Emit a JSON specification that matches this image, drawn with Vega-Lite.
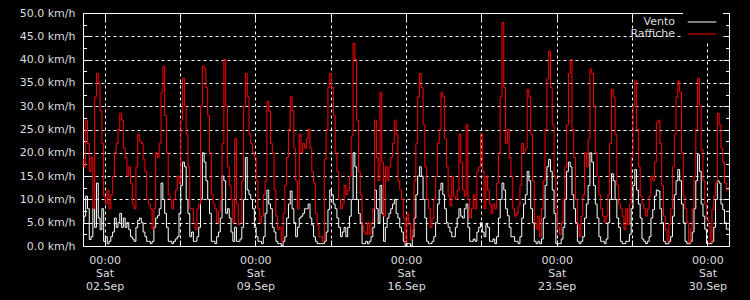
{
"$schema": "https://vega.github.io/schema/vega-lite/v6.json",
"width": 646, "height": 233,
"autosize": {"type": "none"},
"padding": {"left": 83, "top": 13, "right": 21, "bottom": 54},
"background": "black",
"config": {
  "view": {"stroke": "white", "strokeWidth": 1},
  "axis": {"domain": false, "labelFont": "DejaVu Sans", "labelFontSize": 11, "labelColor": "#dddddd", "tickColor": "white", "gridColor": "white", "gridOpacity": 1, "gridDash": [3, 3], "title": null, "labelFlush": false, "labelOverlap": false}
},
"data": {"format": {"parse": {"t": "date:'%y%m%d%H'"}}, "values": [
{"t":"17090100","v":5,"g":18.6},{"t":"17090102","v":6.4,"g":17},{"t":"17090104","v":10.7,"g":27},{"t":"17090106","v":8,"g":22},{"t":"17090108","v":1.4,"g":16},{"t":"17090110","v":2,"g":19},{"t":"17090112","v":8,"g":8},{"t":"17090114","v":4,"g":32},{"t":"17090116","v":13.5,"g":37},{"t":"17090118","v":6,"g":35},{"t":"17090120","v":3.5,"g":29},{"t":"17090122","v":8,"g":22},
{"t":"17090200","v":1,"g":10.7},{"t":"17090202","v":2,"g":9},{"t":"17090204","v":0.5,"g":12},{"t":"17090206","v":1,"g":8},{"t":"17090208","v":2,"g":11},{"t":"17090210","v":3,"g":15},{"t":"17090212","v":6,"g":20},{"t":"17090214","v":4,"g":22},{"t":"17090216","v":5,"g":25},{"t":"17090218","v":7,"g":28.5},{"t":"17090220","v":4,"g":27},{"t":"17090222","v":6,"g":21},
{"t":"17090300","v":4,"g":19},{"t":"17090302","v":5,"g":15},{"t":"17090304","v":3.5,"g":17},{"t":"17090306","v":2,"g":13.5},{"t":"17090308","v":1.5,"g":9},{"t":"17090310","v":1,"g":8},{"t":"17090312","v":4,"g":17},{"t":"17090314","v":5.5,"g":24},{"t":"17090316","v":6,"g":22.5},{"t":"17090318","v":5,"g":22},{"t":"17090320","v":3,"g":18.6},{"t":"17090322","v":2,"g":16},
{"t":"17090400","v":1,"g":10},{"t":"17090402","v":1,"g":9},{"t":"17090404","v":0.5,"g":8},{"t":"17090406","v":1,"g":3.6},{"t":"17090408","v":4,"g":8},{"t":"17090410","v":6,"g":20},{"t":"17090412","v":6.5,"g":19},{"t":"17090414","v":8,"g":22},{"t":"17090416","v":13.5,"g":33},{"t":"17090418","v":10,"g":38.5},{"t":"17090420","v":7,"g":28},{"t":"17090422","v":4,"g":20},
{"t":"17090500","v":1,"g":11},{"t":"17090502","v":1,"g":10},{"t":"17090504","v":0.5,"g":8},{"t":"17090506","v":1,"g":10},{"t":"17090508","v":1.5,"g":12},{"t":"17090510","v":2,"g":15},{"t":"17090512","v":7,"g":13.5},{"t":"17090514","v":13,"g":27},{"t":"17090516","v":18,"g":36},{"t":"17090518","v":17,"g":30},{"t":"17090520","v":10,"g":24},{"t":"17090522","v":7,"g":17},
{"t":"17090600","v":2,"g":8},{"t":"17090602","v":3,"g":8},{"t":"17090604","v":1,"g":5},{"t":"17090606","v":1,"g":3.6},{"t":"17090608","v":2,"g":8},{"t":"17090610","v":4,"g":9},{"t":"17090612","v":10,"g":30},{"t":"17090614","v":20,"g":38.6},{"t":"17090616","v":18,"g":38},{"t":"17090618","v":14,"g":34},{"t":"17090620","v":10,"g":28},{"t":"17090622","v":7,"g":20},
{"t":"17090700","v":1,"g":11},{"t":"17090702","v":1,"g":9},{"t":"17090704","v":0.5,"g":8},{"t":"17090706","v":2,"g":5},{"t":"17090708","v":3,"g":7.5},{"t":"17090710","v":6,"g":10},{"t":"17090712","v":15,"g":22},{"t":"17090714","v":14,"g":40},{"t":"17090716","v":7,"g":30},{"t":"17090718","v":8,"g":17},{"t":"17090720","v":6,"g":13},{"t":"17090722","v":3,"g":10},
{"t":"17090800","v":1,"g":5},{"t":"17090802","v":4,"g":23},{"t":"17090804","v":1,"g":9},{"t":"17090806","v":1,"g":4.6},{"t":"17090808","v":1.5,"g":5},{"t":"17090810","v":4,"g":14},{"t":"17090812","v":10,"g":30},{"t":"17090814","v":19,"g":37},{"t":"17090816","v":12,"g":32},{"t":"17090818","v":11,"g":24},{"t":"17090820","v":10,"g":22},{"t":"17090822","v":8,"g":20},
{"t":"17090900","v":4,"g":19},{"t":"17090902","v":2,"g":14},{"t":"17090904","v":1,"g":8},{"t":"17090906","v":1,"g":5},{"t":"17090908","v":0.5,"g":6.4},{"t":"17090910","v":2,"g":11},{"t":"17090912","v":7,"g":14},{"t":"17090914","v":12,"g":31},{"t":"17090916","v":9,"g":29},{"t":"17090918","v":8,"g":22},{"t":"17090920","v":4,"g":20},{"t":"17090922","v":3,"g":12},
{"t":"17091000","v":1,"g":6.4},{"t":"17091002","v":0.5,"g":3.6},{"t":"17091004","v":0.5,"g":4},{"t":"17091006","v":0,"g":1},{"t":"17091008","v":1,"g":7},{"t":"17091010","v":2,"g":13},{"t":"17091012","v":6,"g":19},{"t":"17091014","v":9,"g":25},{"t":"17091016","v":11.8,"g":32},{"t":"17091018","v":8,"g":29},{"t":"17091020","v":5,"g":21},{"t":"17091022","v":2,"g":14},
{"t":"17091100","v":4,"g":8},{"t":"17091102","v":6,"g":24},{"t":"17091104","v":6.4,"g":20},{"t":"17091106","v":7,"g":22},{"t":"17091108","v":8,"g":21},{"t":"17091110","v":8,"g":23},{"t":"17091112","v":9,"g":25},{"t":"17091114","v":6,"g":21},{"t":"17091116","v":4.5,"g":16},{"t":"17091118","v":2,"g":13.5},{"t":"17091120","v":1,"g":7},{"t":"17091122","v":0.5,"g":4.5},
{"t":"17091200","v":0.5,"g":2},{"t":"17091202","v":0.5,"g":2},{"t":"17091204","v":0.5,"g":1},{"t":"17091206","v":1,"g":18.6},{"t":"17091208","v":3,"g":25},{"t":"17091210","v":7.8,"g":34},{"t":"17091212","v":12,"g":37},{"t":"17091214","v":11,"g":34},{"t":"17091216","v":9,"g":28},{"t":"17091218","v":8,"g":20},{"t":"17091220","v":6,"g":16},{"t":"17091222","v":4,"g":10},
{"t":"17091300","v":2,"g":8},{"t":"17091302","v":3,"g":9},{"t":"17091304","v":4,"g":13},{"t":"17091306","v":2,"g":11},{"t":"17091308","v":4,"g":12},{"t":"17091310","v":6.4,"g":15},{"t":"17091312","v":10,"g":23.6},{"t":"17091314","v":20,"g":43.5},{"t":"17091316","v":17,"g":40},{"t":"17091318","v":10,"g":27},{"t":"17091320","v":7,"g":16},{"t":"17091322","v":5,"g":11},
{"t":"17091400","v":0.5,"g":4.5},{"t":"17091402","v":0.5,"g":3},{"t":"17091404","v":1,"g":2.5},{"t":"17091406","v":0.5,"g":5},{"t":"17091408","v":1,"g":2.5},{"t":"17091410","v":2,"g":5},{"t":"17091412","v":4,"g":8},{"t":"17091414","v":12,"g":27},{"t":"17091416","v":8,"g":19},{"t":"17091418","v":5,"g":14},{"t":"17091420","v":13,"g":33},{"t":"17091422","v":7,"g":18},
{"t":"17091500","v":1,"g":6.4},{"t":"17091502","v":4,"g":17},{"t":"17091504","v":6,"g":14},{"t":"17091506","v":7,"g":17},{"t":"17091508","v":8,"g":19},{"t":"17091510","v":9,"g":22},{"t":"17091512","v":10,"g":27},{"t":"17091514","v":7,"g":24},{"t":"17091516","v":6,"g":14},{"t":"17091518","v":4,"g":12},{"t":"17091520","v":3,"g":10},{"t":"17091522","v":1,"g":6},
{"t":"17091600","v":0,"g":0.7},{"t":"17091602","v":0.5,"g":7},{"t":"17091604","v":0.5,"g":4.6},{"t":"17091606","v":0,"g":1.4},{"t":"17091608","v":2,"g":3.6},{"t":"17091610","v":6,"g":14},{"t":"17091612","v":11,"g":22},{"t":"17091614","v":15,"g":32},{"t":"17091616","v":17,"g":37},{"t":"17091618","v":15,"g":34},{"t":"17091620","v":10,"g":26},{"t":"17091622","v":6,"g":17},
{"t":"17091700","v":1,"g":10},{"t":"17091702","v":0.5,"g":8},{"t":"17091704","v":0.5,"g":4},{"t":"17091706","v":1,"g":6},{"t":"17091708","v":2,"g":10},{"t":"17091710","v":5,"g":15},{"t":"17091712","v":9,"g":22},{"t":"17091714","v":12,"g":25},{"t":"17091716","v":13.5,"g":33},{"t":"17091718","v":11,"g":32},{"t":"17091720","v":8,"g":23},{"t":"17091722","v":5,"g":17},
{"t":"17091800","v":4,"g":10.7},{"t":"17091802","v":3,"g":8.6},{"t":"17091804","v":2,"g":15},{"t":"17091806","v":2,"g":10.7},{"t":"17091808","v":4,"g":10},{"t":"17091810","v":6,"g":12},{"t":"17091812","v":8,"g":24},{"t":"17091814","v":6.4,"g":18},{"t":"17091816","v":6,"g":12},{"t":"17091818","v":8,"g":10.7},{"t":"17091820","v":9,"g":26},{"t":"17091822","v":4,"g":10},
{"t":"17091900","v":1,"g":6},{"t":"17091902","v":1,"g":8},{"t":"17091904","v":1.5,"g":11},{"t":"17091906","v":1,"g":8},{"t":"17091908","v":3,"g":16},{"t":"17091910","v":4,"g":17},{"t":"17091912","v":5,"g":24},{"t":"17091914","v":3,"g":16},{"t":"17091916","v":2,"g":8},{"t":"17091918","v":4.6,"g":15},{"t":"17091920","v":4,"g":12},{"t":"17091922","v":1,"g":9},
{"t":"17092000","v":1,"g":7},{"t":"17092002","v":1.5,"g":9},{"t":"17092004","v":0.5,"g":8},{"t":"17092006","v":2,"g":13.5},{"t":"17092008","v":6,"g":20},{"t":"17092010","v":10,"g":32},{"t":"17092012","v":13.5,"g":48},{"t":"17092014","v":12,"g":34},{"t":"17092016","v":8,"g":22},{"t":"17092018","v":6.5,"g":25},{"t":"17092020","v":4,"g":19},{"t":"17092022","v":2,"g":15},
{"t":"17092100","v":2,"g":8},{"t":"17092102","v":1,"g":6.4},{"t":"17092104","v":1,"g":7},{"t":"17092106","v":0.5,"g":8.6},{"t":"17092108","v":2,"g":13},{"t":"17092110","v":6,"g":22},{"t":"17092112","v":9,"g":20},{"t":"17092114","v":11,"g":21},{"t":"17092116","v":16,"g":33.6},{"t":"17092118","v":14,"g":32},{"t":"17092120","v":8,"g":24},{"t":"17092122","v":5,"g":14},
{"t":"17092200","v":1,"g":5},{"t":"17092202","v":0.5,"g":3.6},{"t":"17092204","v":1,"g":6.4},{"t":"17092206","v":0.5,"g":2},{"t":"17092208","v":1.5,"g":8},{"t":"17092210","v":6,"g":14},{"t":"17092212","v":13,"g":25},{"t":"17092214","v":17,"g":36},{"t":"17092216","v":18.6,"g":41.8},{"t":"17092218","v":16,"g":34},{"t":"17092220","v":12,"g":26},{"t":"17092222","v":7,"g":15},
{"t":"17092300","v":0.5,"g":8},{"t":"17092302","v":0.5,"g":4},{"t":"17092304","v":0.5,"g":2.5},{"t":"17092306","v":1.5,"g":5},{"t":"17092308","v":4,"g":10},{"t":"17092310","v":10,"g":17},{"t":"17092312","v":16,"g":26},{"t":"17092314","v":18,"g":37},{"t":"17092316","v":17,"g":40},{"t":"17092318","v":11,"g":25},{"t":"17092320","v":8,"g":19},{"t":"17092322","v":5,"g":10},
{"t":"17092400","v":1,"g":4.6},{"t":"17092402","v":0.5,"g":2},{"t":"17092404","v":1,"g":6.4},{"t":"17092406","v":2,"g":11},{"t":"17092408","v":6,"g":20},{"t":"17092410","v":9,"g":17},{"t":"17092412","v":13,"g":23},{"t":"17092414","v":20,"g":38},{"t":"17092416","v":18,"g":37},{"t":"17092418","v":13,"g":30},{"t":"17092420","v":9,"g":20},{"t":"17092422","v":6,"g":15},
{"t":"17092500","v":2,"g":11},{"t":"17092502","v":1,"g":8},{"t":"17092504","v":1,"g":6.4},{"t":"17092506","v":0.5,"g":5},{"t":"17092508","v":1.5,"g":6.4},{"t":"17092510","v":5,"g":11},{"t":"17092512","v":10,"g":22},{"t":"17092514","v":15.5,"g":33.6},{"t":"17092516","v":14,"g":32},{"t":"17092518","v":10,"g":24},{"t":"17092520","v":6,"g":13},{"t":"17092522","v":4,"g":9},
{"t":"17092600","v":1,"g":8},{"t":"17092602","v":0.5,"g":6.4},{"t":"17092604","v":0.5,"g":3.6},{"t":"17092606","v":1,"g":8},{"t":"17092608","v":1,"g":4.6},{"t":"17092610","v":2.5,"g":9},{"t":"17092612","v":8,"g":19},{"t":"17092614","v":13,"g":30},{"t":"17092616","v":16.4,"g":35.4},{"t":"17092618","v":12,"g":25},{"t":"17092620","v":9,"g":17},{"t":"17092622","v":6,"g":10.7},
{"t":"17092700","v":1.5,"g":9},{"t":"17092702","v":1,"g":8},{"t":"17092704","v":0.5,"g":6.4},{"t":"17092706","v":1,"g":8},{"t":"17092708","v":2,"g":10.7},{"t":"17092710","v":6,"g":15},{"t":"17092712","v":7.8,"g":14},{"t":"17092714","v":10.7,"g":18},{"t":"17092716","v":12,"g":26.4},{"t":"17092718","v":11.8,"g":27},{"t":"17092720","v":8,"g":22},{"t":"17092722","v":5,"g":13},
{"t":"17092800","v":1,"g":6.4},{"t":"17092802","v":0.5,"g":3.6},{"t":"17092804","v":0.5,"g":1},{"t":"17092806","v":1,"g":4.6},{"t":"17092808","v":2,"g":8},{"t":"17092810","v":6.4,"g":17},{"t":"17092812","v":11,"g":24},{"t":"17092814","v":14,"g":32},{"t":"17092816","v":16.4,"g":35.4},{"t":"17092818","v":14,"g":33},{"t":"17092820","v":9,"g":20},{"t":"17092822","v":5,"g":10.7},
{"t":"17092900","v":1,"g":8},{"t":"17092902","v":0.5,"g":5},{"t":"17092904","v":0.5,"g":0.7},{"t":"17092906","v":1,"g":3.6},{"t":"17092908","v":3,"g":8},{"t":"17092910","v":8,"g":15},{"t":"17092912","v":14,"g":25},{"t":"17092914","v":19.6,"g":36},{"t":"17092916","v":16,"g":30},{"t":"17092918","v":9,"g":20.7},{"t":"17092920","v":6.4,"g":14},{"t":"17092922","v":3.6,"g":9},
{"t":"17093000","v":0.5,"g":5.7},{"t":"17093002","v":0.5,"g":4.3},{"t":"17093004","v":0.5,"g":0.7},{"t":"17093006","v":1,"g":7.8},{"t":"17093008","v":4,"g":10.7},{"t":"17093010","v":10,"g":13.5},{"t":"17093012","v":14,"g":28.5},{"t":"17093014","v":13.5,"g":26},{"t":"17093016","v":9,"g":21},{"t":"17093018","v":7.8,"g":18},{"t":"17093020","v":5,"g":13.5},{"t":"17093022","v":3.6,"g":12},
{"t":"17100100","v":3.6,"g":12}
]},
"transform": [{"fold": ["v", "g"], "as": ["s", "val"]}],
"layer": [
  {
    "mark": {"type": "line", "interpolate": "step", "strokeWidth": 1},
    "encoding": {
      "x": {"field": "t", "type": "temporal",
        "scale": {"domain": [{"year": 2017, "month": 9, "date": 1}, {"year": 2017, "month": 10, "date": 1}]},
        "axis": {"orient": "bottom", "grid": true, "tickSize": -6, "labelPadding": 14, "labelBaseline": "top", "labelLineHeight": 13,
          "values": [{"year": 2017, "month": 9, "date": 2}, {"year": 2017, "month": 9, "date": 5, "hours": 12}, {"year": 2017, "month": 9, "date": 9}, {"year": 2017, "month": 9, "date": 12, "hours": 12}, {"year": 2017, "month": 9, "date": 16}, {"year": 2017, "month": 9, "date": 19, "hours": 12}, {"year": 2017, "month": 9, "date": 23}, {"year": 2017, "month": 9, "date": 26, "hours": 12}, {"year": 2017, "month": 9, "date": 30}],
          "labelExpr": "hours(datum.value) == 0 ? [timeFormat(datum.value, '%H:%M'), timeFormat(datum.value, '%a'), timeFormat(datum.value, '%d.%b')] : ''"}},
      "y": {"field": "val", "type": "quantitative",
        "scale": {"domain": [0, 50], "nice": false, "zero": true},
        "axis": {"orient": "left", "grid": true, "tickSize": -6, "labelPadding": 14, "values": [0, 5, 10, 15, 20, 25, 30, 35, 40, 45, 50],
          "labelExpr": "format(datum.value, '.1f') + ' km/h'"}},
      "color": {"field": "s", "type": "nominal",
        "scale": {"domain": ["v", "g"], "range": ["#ffffff", "#ff0000"]},
        "legend": {"orient": "none", "legendX": 600, "legendY": -2, "title": null, "symbolType": "M-2.2,0H2.2", "symbolSize": 169, "symbolStrokeWidth": 1, "symbolOpacity": 1, "symbolOffset": 8,
          "labelAlign": "right", "labelOffset": -34, "rowPadding": 0, "padding": 4, "fillColor": "black",
          "labelFont": "DejaVu Sans", "labelFontSize": 11, "labelColor": "#dddddd",
          "labelExpr": "datum.label == 'v' ? 'Vento' : 'Raffiche'"}}
    }
  },
  {
    "mark": {"type": "line", "strokeOpacity": 0},
    "encoding": {
      "x": {"field": "t", "type": "temporal",
        "axis": {"orient": "top", "grid": false, "labels": false, "tickSize": -6,
          "values": [{"year": 2017, "month": 9, "date": 2}, {"year": 2017, "month": 9, "date": 5, "hours": 12}, {"year": 2017, "month": 9, "date": 9}, {"year": 2017, "month": 9, "date": 12, "hours": 12}, {"year": 2017, "month": 9, "date": 16}, {"year": 2017, "month": 9, "date": 19, "hours": 12}, {"year": 2017, "month": 9, "date": 23}, {"year": 2017, "month": 9, "date": 26, "hours": 12}, {"year": 2017, "month": 9, "date": 30}]}},
      "y": {"field": "val", "type": "quantitative",
        "axis": {"orient": "right", "grid": false, "labels": false, "tickSize": -6, "values": [0, 5, 10, 15, 20, 25, 30, 35, 40, 45, 50]}}
    }
  },
  {
    "mark": {"type": "line", "strokeOpacity": 0},
    "encoding": {
      "x": {"field": "t", "type": "temporal", "axis": null},
      "y": {"field": "val", "type": "quantitative",
        "axis": {"orient": "left", "grid": false, "labels": false, "tickSize": -3.5, "values": [2.5, 7.5, 12.5, 17.5, 22.5, 27.5, 32.5, 37.5, 42.5, 47.5]}}
    }
  },
  {
    "mark": {"type": "line", "strokeOpacity": 0},
    "encoding": {
      "x": {"field": "t", "type": "temporal", "axis": null},
      "y": {"field": "val", "type": "quantitative",
        "axis": {"orient": "right", "grid": false, "labels": false, "tickSize": -3.5, "values": [2.5, 7.5, 12.5, 17.5, 22.5, 27.5, 32.5, 37.5, 42.5, 47.5]}}
    }
  }
],
"resolve": {"axis": {"x": "independent", "y": "independent"}}
}
